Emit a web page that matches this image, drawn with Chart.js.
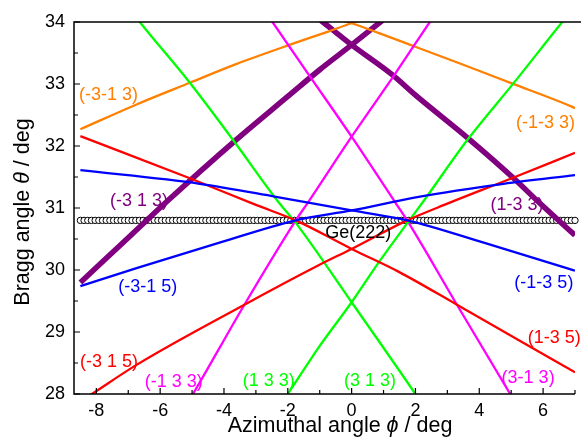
<!DOCTYPE html>
<html>
<head>
<meta charset="utf-8">
<script src="https://cdn.jsdelivr.net/npm/chart.js@4/dist/chart.umd.min.js"></script>
<style>
  html, body { margin: 0; padding: 0; background: #fff; }
  #wrap { width: 581px; height: 446px; }
</style>
</head>
<body>
<div id="wrap"><canvas id="c" width="581" height="446"></canvas></div>
<script>
// Renninger-type scan around Ge(222): Bragg angle of each secondary reflection vs. azimuth

// (-3-1 3)
const phi_m3m13 = [-8.5, -6.74, -5.07, -3.62, -1.95, -0.71, 0, 1, 2];
const theta_m3m13 = [32.27, 32.67, 33.02, 33.32, 33.63, 33.85, 33.98, 34.12, 34.24];
// (-1-3 3)
const phi_m1m33 = [-2, -1, 0, 0.86, 1.9, 3.5, 5.02, 6.74, 7];
const theta_m1m33 = [34.24, 34.12, 33.98, 33.82, 33.62, 33.31, 33.01, 32.67, 32.61];
// (-3 1 3)
const phi_m313 = [-8.5, -7, -5.8, -3.62, -2, -1, 0, 0.9, 1.5];
const theta_m313 = [29.8, 30.52, 31.1, 32.1, 32.8, 33.23, 33.63, 34.0, 34.25];
// (1-3 3)
const phi_1m33 = [-1.5, -0.9, 0, 1.27, 2, 3.66, 5.12, 5.85, 7];
const theta_1m33 = [34.25, 34.0, 33.63, 33.15, 32.82, 32.12, 31.46, 31.1, 30.56];
// (3 1 3)
const phi_313 = [-7, -6.64, -5.07, -3.72, -2.27, -1.75, 0, 2.0, 2.3];
const theta_313 = [34.24, 34.0, 33.02, 32.1, 31.08, 30.76, 29.48, 28.0, 27.77];
// (1 3 3)
const phi_133 = [-2.3, -2.0, -1.02, 0, 0.86, 1.75, 2.21, 3.66, 5.07, 6.6, 7];
const theta_133 = [27.77, 28.0, 28.76, 29.48, 30.13, 30.76, 31.08, 32.12, 33.01, 34.0, 34.25];
// (3-1 3)
const phi_3m13 = [-2.8, -2.48, -1.33, 0, 1.38, 1.74, 3.3, 4.97, 5.3];
const theta_3m13 = [34.24, 34.0, 33.14, 32.15, 31.08, 30.8, 29.44, 28.0, 27.72];
// (-1 3 3)
const phi_m133 = [-5.3, -4.97, -3.36, -1.75, -1.38, 0, 1.33, 2.45, 2.8];
const theta_m133 = [27.72, 28.0, 29.44, 30.8, 31.08, 32.15, 33.14, 34.0, 34.26];
// (-3 1 5)
const phi_m315 = [-8.5, -8.14, -6.74, -3.36, -1.02, 0, 1.74, 3.0, 5.02, 7];
const theta_m315 = [27.88, 28.0, 28.47, 29.44, 30.08, 30.34, 30.8, 31.07, 31.48, 31.89];
// (1-3 5)
const phi_1m35 = [-8.5, -5.07, -3.0, -1.75, 0, 1.48, 3.3, 5.2, 7];
const theta_1m35 = [32.16, 31.48, 31.05, 30.8, 30.34, 29.97, 29.44, 28.88, 28.35];
// (-3-1 5)
const phi_m3m15 = [-8.5, -6.74, -4.14, -1.75, 0, 2.1, 4.76, 7];
const theta_m3m15 = [29.74, 30.03, 30.44, 30.8, 30.96, 31.18, 31.39, 31.53];
// (-1-3 5)
const phi_m1m35 = [-8.5, -4.76, -2.37, 0, 1.75, 4.14, 6.74, 7];
const theta_m1m35 = [31.61, 31.39, 31.18, 30.96, 30.8, 30.44, 30.03, 29.99];

// Ge(222) primary reflection: constant Bragg angle over the scanned azimuth range
const geTheta = 30.8;
const geScanStart = -8.5;
const geScanEnd = 7;
const geScanPoints = 135;

// Axis ranges and ticks
const phiMin = -8.7, phiMax = 7;
const thetaMin = 28, thetaMax = 34;
const phiStep = 1, thetaStep = 0.5;

// Reflection tags: text, colour, anchor (phi, theta) at the text's left edge
const tags = [
  { text: '(-3-1 3)', color: '#FF8000', phi: -8.54, theta: 32.82 },
  { text: '(-1-3 3)', color: '#FF8000', phi: 5.15, theta: 32.37 },
  { text: '(-3 1 3)', color: '#800080', phi: -7.57, theta: 31.11 },
  { text: '(1-3 3)', color: '#800080', phi: 4.35, theta: 31.04 },
  { text: 'Ge(222)', color: '#000000', phi: -0.83, theta: 30.60 },
  { text: '(-3-1 5)', color: '#0000FF', phi: -7.31, theta: 29.72 },
  { text: '(-1-3 5)', color: '#0000FF', phi: 5.10, theta: 29.79 },
  { text: '(-3 1 5)', color: '#FF0000', phi: -8.51, theta: 28.51 },
  { text: '(1-3 5)', color: '#FF0000', phi: 5.52, theta: 28.90 },
  { text: '(-1 3 3)', color: '#FF00FF', phi: -6.48, theta: 28.20 },
  { text: '(1 3 3)', color: '#00FF00', phi: -3.41, theta: 28.21 },
  { text: '(3 1 3)', color: '#00FF00', phi: -0.24, theta: 28.21 },
  { text: '(3-1 3)', color: '#FF00FF', phi: 4.70, theta: 28.25 }
];

const FONT = '"Liberation Sans", Arial, Helvetica, sans-serif';

function pts(xs, ys) { return xs.map((x, i) => ({ x: x, y: ys[i] })); }

function curve(label, xs, ys, color, width) {
  return {
    label: label,
    data: pts(xs, ys),
    borderColor: color,
    backgroundColor: color,
    borderWidth: width,
    pointRadius: 0,
    fill: false,
    cubicInterpolationMode: 'monotone',
    clip: 0,
    order: 1
  };
}

const gePhi = Array.from({ length: geScanPoints },
  (_, i) => geScanStart + i * (geScanEnd - geScanStart) / (geScanPoints - 1));
const geThetaSeries = gePhi.map(() => geTheta);

const datasets = [
  curve('(-3-1 5)', phi_m3m15, theta_m3m15, '#0000FF', 2.3),
  curve('(-1-3 5)', phi_m1m35, theta_m1m35, '#0000FF', 2.3),
  curve('(-3 1 5)', phi_m315, theta_m315, '#FF0000', 2.3),
  curve('(1-3 5)', phi_1m35, theta_1m35, '#FF0000', 2.3),
  curve('(3 1 3)', phi_313, theta_313, '#00FF00', 2.3),
  curve('(1 3 3)', phi_133, theta_133, '#00FF00', 2.3),
  curve('(3-1 3)', phi_3m13, theta_3m13, '#FF00FF', 2.3),
  curve('(-1 3 3)', phi_m133, theta_m133, '#FF00FF', 2.3),
  curve('(-3-1 3)', phi_m3m13, theta_m3m13, '#FF8000', 2.3),
  curve('(-1-3 3)', phi_m1m33, theta_m1m33, '#FF8000', 2.3),
  curve('(-3 1 3)', phi_m313, theta_m313, '#800080', 5.5),
  curve('(1-3 3)', phi_1m33, theta_1m33, '#800080', 5.5),
  {
    label: 'Ge(222)',
    data: pts(gePhi, geThetaSeries),
    showLine: false,
    pointRadius: 3.2,
    pointBorderWidth: 1,
    pointBorderColor: '#000000',
    pointBackgroundColor: '#FFFFFF',
    clip: false,
    order: 10
  }
];

// Axes frame with inward ticks, reflection tags and axis titles
const framePlugin = {
  id: 'frame',
  afterDatasetsDraw(chart) {
    const ctx = chart.ctx;
    const xs = chart.scales.x, ys = chart.scales.y;
    ctx.save();
    ctx.font = '18px ' + FONT;
    ctx.textAlign = 'left';
    ctx.textBaseline = 'middle';
    tags.forEach(t => {
      ctx.fillStyle = t.color;
      ctx.fillText(t.text, xs.getPixelForValue(t.phi), ys.getPixelForValue(t.theta));
    });
    ctx.restore();
  },
  afterDraw(chart) {
    const ctx = chart.ctx;
    const a = chart.chartArea;
    const xs = chart.scales.x, ys = chart.scales.y;
    ctx.save();
    ctx.strokeStyle = '#000';
    ctx.lineWidth = 1.5;
    ctx.beginPath();
    ctx.moveTo(a.left, a.top);
    ctx.lineTo(chart.width, a.top);
    ctx.moveTo(a.left, a.top - 0.75);
    ctx.lineTo(a.left, a.bottom);
    ctx.lineTo(a.right, a.bottom);
    ctx.stroke();

    ctx.lineWidth = 1.2;
    ctx.beginPath();
    xs.ticks.forEach(t => {
      const p = xs.getPixelForValue(t.value);
      const len = (Math.round(t.value) % 2 === 0) ? 6 : 4;
      ctx.moveTo(p, a.bottom);
      ctx.lineTo(p, a.bottom - len);
    });
    ys.ticks.forEach(t => {
      const p = ys.getPixelForValue(t.value);
      const len = Number.isInteger(t.value) ? 6 : 4;
      ctx.moveTo(a.left, p);
      ctx.lineTo(a.left + len, p);
    });
    ctx.stroke();

    // axis titles
    ctx.fillStyle = '#000';
    ctx.textBaseline = 'alphabetic';
    const drawParts = (parts, size) => {
      let total = 0;
      parts.forEach(p => {
        ctx.font = (p.italic ? 'italic ' : '') + size + 'px ' + FONT;
        p.w = ctx.measureText(p.s).width;
        total += p.w;
      });
      let x = -total / 2;
      parts.forEach(p => {
        ctx.font = (p.italic ? 'italic ' : '') + size + 'px ' + FONT;
        ctx.textAlign = 'left';
        ctx.fillText(p.s, x, 0);
        x += p.w;
      });
    };
    ctx.save();
    ctx.translate(340, 432);
    drawParts([{ s: 'Azimuthal angle ' }, { s: '\u03D5', italic: true }, { s: ' / deg' }], 21.5);
    ctx.restore();
    ctx.save();
    ctx.translate(29, 212);
    ctx.rotate(-Math.PI / 2);
    drawParts([{ s: 'Bragg angle ' }, { s: '\u03B8', italic: true }, { s: ' / deg' }], 21.5);
    ctx.restore();
    ctx.restore();
  }
};

new Chart(document.getElementById('c'), {
  type: 'line',
  data: { datasets: datasets },
  options: {
    responsive: false,
    animation: false,
    devicePixelRatio: 1,
    layout: { padding: { top: 22, right: 4, left: 0, bottom: 0 } },
    plugins: { legend: { display: false }, tooltip: { enabled: false } },
    scales: {
      x: {
        type: 'linear',
        min: phiMin,
        max: phiMax,
        grid: { display: false, drawTicks: false },
        border: { display: false },
        ticks: {
          stepSize: phiStep,
          includeBounds: false,
          autoSkip: false,
          maxRotation: 0,
          padding: 6,
          color: '#000',
          font: { family: FONT, size: 18 },
          callback: v => (Math.round(v) % 2 === 0 ? String(Math.round(v)) : '')
        },
        afterFit: s => { s.height = 52; }
      },
      y: {
        type: 'linear',
        min: thetaMin,
        max: thetaMax,
        grid: { display: false, drawTicks: false },
        border: { display: false },
        ticks: {
          stepSize: thetaStep,
          autoSkip: false,
          padding: 9,
          color: '#000',
          font: { family: FONT, size: 18 },
          callback: v => (Number.isInteger(v) ? String(v) : '')
        },
        afterFit: s => { s.width = 74; }
      }
    }
  },
  plugins: [framePlugin]
});
</script>
</body>
</html>
